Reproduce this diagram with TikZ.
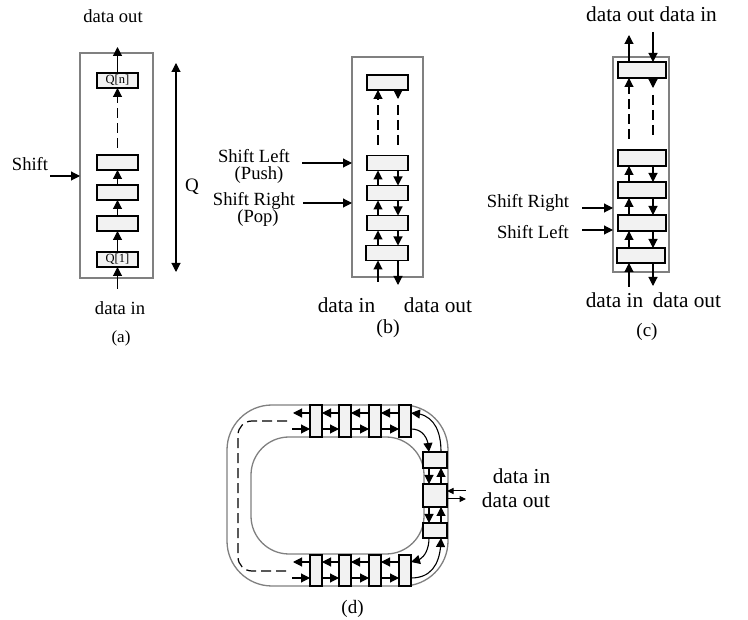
\documentclass[tikz,border=0pt]{standalone}
\usepackage{fontspec}
\setmainfont{Liberation Serif}
\usetikzlibrary{arrows.meta,bending}
\definecolor{framegray}{RGB}{128,128,128}
\definecolor{boxfill}{RGB}{242,242,242}
\begin{document}
\begin{tikzpicture}[x=1pt,y=-1pt,
 qbox/.style={draw=black,fill=boxfill,line width=1.1pt,inner sep=0pt,outer sep=0pt,rectangle,font=\fontsize{12.5}{13}\selectfont},
 frm/.style={draw=framegray,line width=1.3pt,inner sep=0pt,outer sep=0pt,rectangle},
 arr/.style={-{Triangle[length=9pt,width=9pt]},line width=1.1pt},
 sarr/.style={-{Triangle[length=6.5pt,width=6pt]},line width=1pt},
 dsh/.style={dash pattern=on 10pt off 5pt,line width=1.2pt},
 lbl/.style={font=\fontsize{18.6}{20}\selectfont,inner sep=0pt,anchor=base},
 lblb/.style={font=\fontsize{21.3}{23}\selectfont,inner sep=0pt,anchor=base}]
\useasboundingbox (0,0) rectangle (748,620);

% ---------------- (a) ----------------
\node[frm,minimum width=73pt,minimum height=225pt] (fa) at (116.5,165.5) {};
\node[qbox,minimum width=41pt,minimum height=15pt] (an) at (117.5,80.5) {Q[n]};
\node[qbox,minimum width=41pt,minimum height=15pt] (a3) at (117.5,162.5) {};
\node[qbox,minimum width=41pt,minimum height=15pt] (a2) at (117.5,192.5) {};
\node[qbox,minimum width=41pt,minimum height=15pt] (a1) at (117.5,223.5) {};
\node[qbox,minimum width=41pt,minimum height=15pt] (a0) at (117.5,259.5) {Q[1]};
\coordinate (aout) at (117.5,47);
\coordinate (ain) at (117.5,289);
\coordinate (ads) at (117.5,148);
\coordinate (ash) at (50,176);
\coordinate (qt) at (176,63);
\coordinate (qb) at (176,272);
\draw[arr] (an.north) -- (aout);
\draw[arr] (ain) -- (a0.south);
\draw[arr] (a0.north) -- (a1.south);
\draw[arr] (a1.north) -- (a2.south);
\draw[arr] (a2.north) -- (a3.south);
\draw[dsh,arr] (ads) -- (an.south);
\draw[arr] (ash) -- (ash -| fa.west);
\draw[{Triangle[length=9pt,width=9pt]}-{Triangle[length=9pt,width=9pt]},line width=1.1pt] (qt) -- (qb);
\node[lbl] (tao) at (113,22.7) {data out};
\node[lbl] (tai) at (120,315) {data in};
\node[lbl,font=\fontsize{17}{18}\selectfont] (tla) at (121,343) {(a)};
\node[lbl] (tsh) at (30,171) {Shift};
\node[lbl,font=\fontsize{19}{20}\selectfont] (tq) at (192,192) {Q};

% ---------------- (b) ----------------
\node[frm,minimum width=71pt,minimum height=220pt] (fb) at (387.5,167) {};
\node[qbox,minimum width=41pt,minimum height=15pt] (b5) at (387.5,82.5) {};
\node[qbox,minimum width=41pt,minimum height=15pt] (b4) at (387.5,163) {};
\node[qbox,minimum width=41pt,minimum height=15pt] (b3) at (387.5,193) {};
\node[qbox,minimum width=41pt,minimum height=15pt] (b2) at (387.5,223) {};
\node[qbox,minimum width=42pt,minimum height=15pt] (b1) at (387,253) {};
\coordinate (bL) at (378,0);
\coordinate (bR) at (398,0);
\draw[arr] (b1.north -| bL) -- (b2.south -| bL);
\draw[arr] (b2.north -| bL) -- (b3.south -| bL);
\draw[arr] (b3.north -| bL) -- (b4.south -| bL);
\draw[arr] (b4.south -| bR) -- (b3.north -| bR);
\draw[arr] (b3.south -| bR) -- (b2.north -| bR);
\draw[arr] (b2.south -| bR) -- (b1.north -| bR);
\coordinate (bdl) at (378,145);
\coordinate (bdr) at (398,145);
\coordinate (bdr2) at (398,99);
\coordinate (bdr3) at (398,105);
\draw[dsh,arr] (bdl) -- (b5.south -| bL);
\draw[arr] (b5.south -| bR) -- (bdr2);
\draw[dsh] (bdr3) -- (bdr);
\coordinate (bin) at (378,282);
\coordinate (bout) at (398,285);
\draw[arr] (bin) -- (b1.south -| bL);
\draw[arr] (b1.south -| bR) -- (bout);
\coordinate (bsl) at (302,163);
\coordinate (bsr) at (303,203);
\draw[arr] (bsl) -- (bsl -| fb.west);
\draw[arr] (bsr) -- (bsr -| fb.west);
\node[lbl] (tbsl) at (254,163) {Shift Left};
\node[lbl] (tbpu) at (259,180) {(Push)};
\node[lbl] (tbsr) at (254,205.5) {Shift Right};
\node[lbl] (tbpo) at (258,223) {(Pop)};
\node[lblb] (tbin) at (346.5,313) {data in};
\node[lblb] (tbout) at (438,313) {data out};
\node[lbl,font=\fontsize{20}{21}\selectfont] (tlb) at (388,334) {(b)};

% ---------------- (c) ----------------
\node[frm,minimum width=56pt,minimum height=215pt] (fc) at (641,164.5) {};
\node[qbox,minimum width=48pt,minimum height=16pt] (c5) at (642,70) {};
\node[qbox,minimum width=48pt,minimum height=16pt] (c4) at (642,158) {};
\node[qbox,minimum width=48pt,minimum height=16pt] (c3) at (642,190) {};
\node[qbox,minimum width=48pt,minimum height=16pt] (c2) at (642,223) {};
\node[qbox,minimum width=48pt,minimum height=15pt] (c1) at (641,255.5) {};
\coordinate (cL) at (629,0);
\coordinate (cR) at (653,0);
\draw[arr] (c1.north -| cL) -- (c2.south -| cL);
\draw[arr] (c2.north -| cL) -- (c3.south -| cL);
\draw[arr] (c3.north -| cL) -- (c4.south -| cL);
\draw[arr] (c4.south -| cR) -- (c3.north -| cR);
\draw[arr] (c3.south -| cR) -- (c2.north -| cR);
\draw[arr] (c2.south -| cR) -- (c1.north -| cR);
\coordinate (cout) at (629,35);
\coordinate (cin) at (653,32);
\draw[arr] (c5.north -| cL) -- (cout);
\draw[arr] (cin) -- (c5.north -| cR);
\coordinate (cdl) at (629,139);
\coordinate (cdr) at (653,139);
\coordinate (cdr2) at (653,88);
\coordinate (cdr3) at (653,95);
\draw[dsh,arr] (cdl) -- (c5.south -| cL);
\draw[arr] (c5.south -| cR) -- (cdr2);
\draw[dsh] (cdr3) -- (cdr);
\coordinate (cin2) at (629,287);
\coordinate (cout2) at (653,286);
\draw[arr] (cin2) -- (c1.south -| cL);
\draw[arr] (c1.south -| cR) -- (cout2);
\coordinate (csr) at (582,208);
\coordinate (csl) at (582,230);
\draw[arr] (csr) -- (csr -| fc.west);
\draw[arr] (csl) -- (csl -| fc.west);
\node[lblb] (tctop) at (651.5,22) {data out data in};
\node[lbl] (tcsr) at (528,208) {Shift Right};
\node[lbl] (tcsl) at (533,239) {Shift Left};
\node[lblb] (tcin) at (614.5,308) {data in};
\node[lblb] (tcout) at (687,308) {data out};
\node[lbl,font=\fontsize{19}{20}\selectfont] (tlc) at (647,337) {(c)};

% ---------------- (d) ----------------
\node[frm,rounded corners=45pt,minimum width=221pt,minimum height=181pt] (fdo) at (337.5,495.5) {};
\node[frm,rounded corners=38pt,minimum width=173pt,minimum height=117pt] (fdi) at (337.5,495.5) {};
\node[qbox,minimum width=12pt,minimum height=32pt] (t1) at (316,421) {};
\node[qbox,minimum width=12pt,minimum height=32pt] (t2) at (345,421) {};
\node[qbox,minimum width=12pt,minimum height=32pt] (t3) at (375,421) {};
\node[qbox,minimum width=12pt,minimum height=32pt] (t4) at (405,421) {};
\node[qbox,minimum width=12pt,minimum height=31pt] (u1) at (316,570.5) {};
\node[qbox,minimum width=12pt,minimum height=31pt] (u2) at (345,570.5) {};
\node[qbox,minimum width=12pt,minimum height=31pt] (u3) at (375,570.5) {};
\node[qbox,minimum width=12pt,minimum height=31pt] (u4) at (405,570.5) {};
\node[qbox,minimum width=24pt,minimum height=16pt] (r3) at (435,460) {};
\node[qbox,minimum width=24pt,minimum height=23pt] (r2) at (435,495.5) {};
\node[qbox,minimum width=24pt,minimum height=15pt] (r1) at (435,530.5) {};
% top rows
\coordinate (tl1) at (293,413);
\coordinate (tl2) at (292,429);
\draw[arr] ([yshift=8pt]t1.west) -- (tl1);
\draw[arr] ([yshift=8pt]t2.west) -- ([yshift=8pt]t1.east);
\draw[arr] ([yshift=8pt]t3.west) -- ([yshift=8pt]t2.east);
\draw[arr] ([yshift=8pt]t4.west) -- ([yshift=8pt]t3.east);
\draw[arr] (tl2) -- ([yshift=-8pt]t1.west);
\draw[arr] ([yshift=-8pt]t1.east) -- ([yshift=-8pt]t2.west);
\draw[arr] ([yshift=-8pt]t2.east) -- ([yshift=-8pt]t3.west);
\draw[arr] ([yshift=-8pt]t3.east) -- ([yshift=-8pt]t4.west);
% bottom rows
\coordinate (ul1) at (293,562);
\coordinate (ul2) at (292,578);
\draw[arr] ([yshift=8.5pt]u1.west) -- (ul1);
\draw[arr] ([yshift=8.5pt]u2.west) -- ([yshift=8.5pt]u1.east);
\draw[arr] ([yshift=8.5pt]u3.west) -- ([yshift=8.5pt]u2.east);
\draw[arr] ([yshift=8.5pt]u4.west) -- ([yshift=8.5pt]u3.east);
\draw[arr] (ul2) -- ([yshift=-7.5pt]u1.west);
\draw[arr] ([yshift=-7.5pt]u1.east) -- ([yshift=-7.5pt]u2.west);
\draw[arr] ([yshift=-7.5pt]u2.east) -- ([yshift=-7.5pt]u3.west);
\draw[arr] ([yshift=-7.5pt]u3.east) -- ([yshift=-7.5pt]u4.west);
% right column
\draw[arr] ([xshift=-6pt]r3.south) -- ([xshift=-6pt]r2.north);
\draw[arr] ([xshift=6pt]r2.north) -- ([xshift=6pt]r3.south);
\draw[arr] ([xshift=-6pt]r2.south) -- ([xshift=-6pt]r1.north);
\draw[arr] ([xshift=6pt]r1.north) -- ([xshift=6pt]r2.south);
% curves
\draw[arr] ([xshift=6pt]r3.north) .. controls (441,428) and (432,413) .. ([yshift=8pt]t4.east);
\draw[arr] ([yshift=-8pt]t4.east) .. controls (424,429) and (429,440) .. ([xshift=-6pt]r3.north);
\draw[arr] ([xshift=-6pt]r1.south) .. controls (429,552) and (422,562) .. ([yshift=8.5pt]u4.east);
\draw[arr] ([yshift=-7.5pt]u4.east) .. controls (434,578) and (441,560) .. ([xshift=6pt]r1.south);
% data in / out
\coordinate (rdi) at (466,491);
\coordinate (rdo) at (466,499);
\draw[sarr] (rdi) -- (rdi -| r2.east);
\draw[sarr] (rdo -| r2.east) -- (rdo);
% dashed return path
\coordinate (dd1) at (287,421);
\coordinate (ddc) at (238,571);
\coordinate (dd2) at (287,571);
\draw[dsh,rounded corners=14pt] (dd1) -| (ddc) -- (dd2);
\node[lblb] (tdin) at (521.5,484) {data in};
\node[lblb] (tdout) at (516,508) {data out};
\node[lbl,font=\fontsize{19}{20}\selectfont] (tld) at (352.5,613) {(d)};
\end{tikzpicture}
\end{document}
